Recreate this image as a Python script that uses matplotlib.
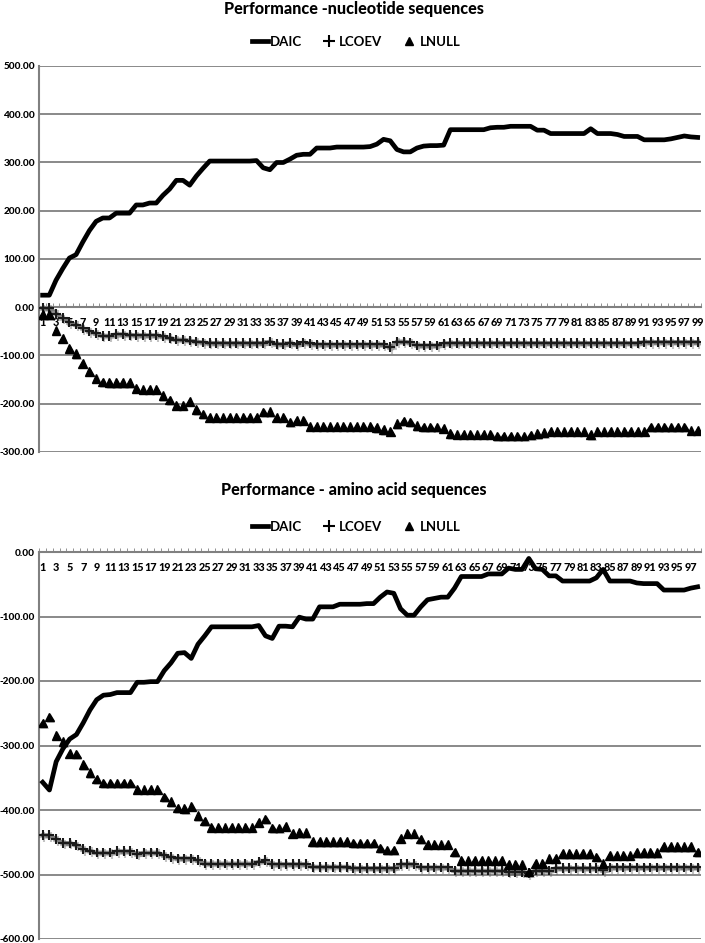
import matplotlib
matplotlib.use("Agg")
import matplotlib.pyplot as plt
import matplotlib.patheffects as pe
from matplotlib.lines import Line2D
from matplotlib.ticker import FormatStrFormatter, FixedLocator

plt.rcParams['font.family'] = ['Lato', 'DejaVu Sans']

# nucleotide sequences (99 runs)
nuc_daic = [25, 25, 56, 80, 102, 109, 135, 159, 178, 185,
            185, 195, 195, 195, 212, 212, 216, 216, 232, 245,
            263, 263, 253, 272, 288, 303, 303, 303, 303, 303,
            303, 303, 304, 289, 285, 300, 300, 307, 315, 317,
            317, 330, 330, 330, 332, 332, 332, 332, 332, 333,
            338, 348, 345, 327, 322, 322, 330, 334, 335, 335,
            336, 368, 368, 368, 368, 368, 368, 372, 373, 373,
            375, 375, 375, 375, 367, 367, 360, 360, 360, 360,
            360, 360, 370, 360, 360, 360, 358, 354, 354, 354,
            347, 347, 347, 347, 349, 352, 355, 353, 352]
nuc_lcoev = [-2, -2, -13, -22, -31, -36, -43, -50, -54, -59,
             -59, -56, -56, -57, -58, -58, -58, -58, -60, -63,
             -67, -67, -69, -71, -73, -74, -74, -74, -74, -74,
             -74, -74, -74, -74, -71, -76, -76, -74, -77, -73,
             -75, -77, -77, -77, -77, -77, -77, -77, -77, -77,
             -77, -77, -83, -71, -71, -73, -79, -79, -79, -79,
             -75, -74, -74, -74, -74, -74, -74, -74, -74, -74,
             -74, -74, -74, -74, -74, -74, -74, -74, -74, -74,
             -74, -74, -74, -74, -74, -74, -74, -74, -74, -74,
             -72, -72, -72, -72, -72, -72, -72, -72, -72]
nuc_lnull = [-15, -15, -48, -64, -86, -96, -116, -133, -147, -155,
             -156, -156, -156, -156, -168, -170, -170, -170, -183, -192,
             -203, -203, -195, -212, -221, -228, -228, -228, -228, -228,
             -228, -228, -228, -217, -216, -228, -228, -238, -234, -234,
             -247, -247, -247, -247, -247, -247, -247, -247, -247, -247,
             -250, -254, -257, -241, -236, -238, -245, -248, -248, -248,
             -251, -262, -263, -263, -263, -263, -263, -263, -267, -267,
             -267, -267, -267, -265, -262, -260, -257, -257, -257, -257,
             -257, -257, -264, -257, -257, -257, -257, -257, -257, -257,
             -257, -248, -248, -248, -248, -248, -248, -255, -255]

# amino acid sequences (98 runs)
aa_daic = [-357, -369, -325, -305, -290, -283, -265, -245, -229, -222,
           -221, -218, -218, -218, -202, -202, -201, -201, -184, -172,
           -157, -156, -165, -143, -130, -116, -116, -116, -116, -116,
           -116, -116, -114, -130, -134, -115, -115, -116, -101, -104,
           -104, -85, -85, -85, -81, -81, -81, -81, -80, -80,
           -70, -62, -64, -88, -98, -98, -85, -74, -72, -70,
           -70, -56, -38, -38, -38, -38, -34, -34, -34, -25,
           -27, -27, -10, -26, -27, -37, -37, -45, -45, -45,
           -45, -45, -40, -27, -45, -45, -45, -45, -48, -49,
           -49, -49, -59, -59, -59, -59, -56, -54]
aa_lcoev = [-439, -439, -445, -451, -451, -454, -461, -463, -466, -466,
            -466, -464, -464, -464, -468, -466, -466, -466, -470, -473,
            -475, -475, -475, -478, -483, -483, -483, -483, -483, -483,
            -483, -483, -480, -478, -484, -484, -484, -484, -484, -484,
            -488, -488, -488, -488, -488, -488, -490, -490, -490, -490,
            -490, -490, -490, -484, -484, -484, -489, -489, -489, -489,
            -489, -494, -494, -494, -494, -494, -494, -494, -494, -496,
            -496, -496, -498, -494, -494, -494, -490, -490, -490, -490,
            -490, -490, -490, -493, -489, -489, -489, -489, -489, -489,
            -489, -489, -489, -489, -489, -489, -489, -489]
aa_lnull = [-265, -256, -284, -294, -312, -313, -330, -342, -352, -358,
            -358, -358, -358, -358, -368, -368, -368, -368, -380, -387,
            -397, -398, -394, -409, -417, -427, -427, -427, -427, -427,
            -427, -427, -419, -414, -428, -428, -425, -436, -435, -435,
            -449, -449, -449, -449, -449, -449, -451, -451, -451, -451,
            -459, -462, -462, -444, -436, -436, -445, -453, -453, -453,
            -453, -465, -478, -478, -478, -478, -478, -478, -478, -484,
            -484, -484, -496, -483, -483, -475, -475, -468, -468, -468,
            -468, -468, -473, -483, -470, -470, -470, -470, -466, -466,
            -466, -466, -457, -457, -457, -457, -457, -465]

series_names = ['DAIC', 'LCOEV', 'LNULL']

W, H = 705, 943
fig = plt.figure(figsize=(W / 100, H / 100), dpi=100)

shadow_line = [pe.SimpleLineShadow(offset=(1.2, -1.2), shadow_color='#555555', alpha=0.35), pe.Normal()]
shadow_mark = [pe.SimplePatchShadow(offset=(1.2, -1.2), shadow_rgbFace='#555555', alpha=0.35), pe.Normal()]


def make_chart(ax, daic, lcoev, lnull, ymin, ymax):
    x = list(range(1, len(daic) + 1))
    ax.plot(x, lcoev, color='#8f8f8f', lw=2.8, marker='+', ms=7, mew=1.5,
            mec='#1a1a1a', zorder=3, path_effects=shadow_line)
    ax.plot(x, lnull, ls='none', marker='^', ms=6.3, color='black',
            zorder=4, path_effects=shadow_mark)
    ax.plot(x, daic, color='black', lw=3.4, zorder=5, solid_joinstyle='round')

    ax.set_xlim(0.5, len(daic) + 0.5)
    ax.set_ylim(ymin, ymax)
    ax.set_yticks(range(ymin, ymax + 1, 100))
    ax.yaxis.set_major_formatter(FormatStrFormatter('%.2f'))
    ax.grid(axis='y', color='#808080', lw=1.3)
    ax.set_axisbelow(True)

    for s in ['top', 'right']:
        ax.spines[s].set_visible(False)
    ax.spines['left'].set_color('#808080')
    ax.spines['left'].set_linewidth(1.5)
    ax.spines['bottom'].set_position(('data', 0))
    ax.spines['bottom'].set_color('#808080')
    ax.spines['bottom'].set_linewidth(1.5)
    ax.spines['bottom'].set_zorder(2)

    odd = x[::2]
    ax.set_xticks(odd)
    ax.set_xticklabels([str(v) for v in odd])
    ax.xaxis.set_minor_locator(FixedLocator([v + 0.5 for v in range(0, len(daic) + 1)]))
    ax.tick_params(axis='x', which='major', length=0, pad=7, labelsize=7.8)
    ax.tick_params(axis='x', which='minor', length=3, direction='in', color='#808080')
    ax.tick_params(axis='y', length=0, pad=3, labelsize=7.2)
    for lab in ax.get_xticklabels() + ax.get_yticklabels():
        lab.set_fontweight('black')


def add_legend(y):
    handles = [Line2D([], [], color='black', lw=3.4),
               Line2D([], [], ls='none', marker='+', ms=8, mew=1.5, color='black'),
               Line2D([], [], ls='none', marker='^', ms=6, color='black')]
    leg = fig.legend(handles, series_names, loc='center', bbox_to_anchor=(0.505, y),
                     ncol=3, frameon=False, handlelength=1.2, handletextpad=0.2,
                     columnspacing=1.4, prop={'weight': 'bold', 'size': 9.5})
    return leg


ax1 = fig.add_axes([39.3 / W, 1 - 452 / H, 661.7 / W, 386 / H])
make_chart(ax1, nuc_daic, nuc_lcoev, nuc_lnull, -300, 500)
fig.text(0.502, 1 - 9 / H, 'Performance -nucleotide sequences', ha='center', va='center',
         fontsize=11.6, fontweight='black')
add_legend(1 - 42 / H)

ax2 = fig.add_axes([39.3 / W, 1 - 939 / H, 661.7 / W, 387 / H])
make_chart(ax2, aa_daic, aa_lcoev, aa_lnull, -600, 0)
fig.text(0.502, 1 - 490 / H, 'Performance - amino acid sequences', ha='center', va='center',
         fontsize=11.6, fontweight='black')
add_legend(1 - 527 / H)

fig.savefig('out.png', dpi=100)
